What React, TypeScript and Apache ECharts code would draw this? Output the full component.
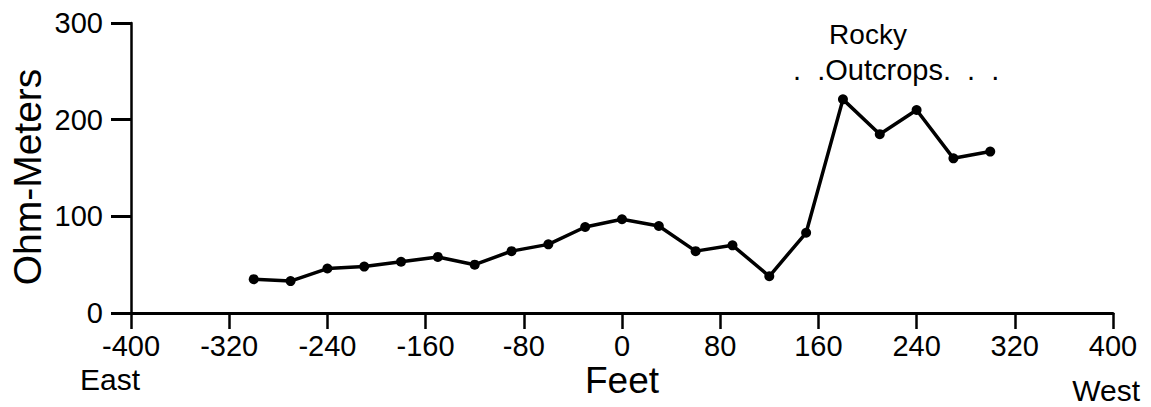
import React, { useEffect, useRef } from "react";
import * as echarts from "echarts";

// Distance along the line (feet), East (-) to West (+)
const feet = [-300, -270, -240, -210, -180, -150, -120, -90, -60, -30, 0, 30, 60, 90, 120, 150, 180, 210, 240, 270, 300];
// Apparent resistivity (Ohm-Meters)
const ohmMeters = [35, 33, 46, 48, 53, 58, 50, 64, 71, 89, 97, 90, 64, 70, 38, 83, 221, 185, 210, 160, 167];

const xMin = -400;
const xMax = 400;
const xInterval = 80;
const yMin = 0;
const yMax = 300;
const yInterval = 100;

const xAxisTitle = "Feet";
const yAxisTitle = "Ohm-Meters";
const leftEndLabel = "East";
const rightEndLabel = "West";
const noteLine1 = "Rocky";
const noteLine2 = ".  .Outcrops.  .  .";

const FONT = '"Liberation Sans", Arial, Helvetica, sans-serif';

export default function App() {
  const ref = useRef<HTMLDivElement>(null);

  useEffect(() => {
    if (!ref.current) return;
    const chart = echarts.init(ref.current, undefined, { renderer: "svg" });
    const data = feet.map((f, i) => [f, ohmMeters[i]]);
    chart.setOption({
      animation: false,
      backgroundColor: "#ffffff",
      textStyle: { fontFamily: FONT, color: "#000" },
      grid: { left: 131, right: 38, top: 23, bottom: 94, containLabel: false },
      xAxis: {
        type: "value",
        min: xMin,
        max: xMax,
        interval: xInterval,
        splitLine: { show: false },
        axisLine: { show: true, onZero: false, lineStyle: { color: "#000", width: 3 } },
        axisTick: { show: true, length: 16, lineStyle: { color: "#000", width: 2.5 } },
        axisLabel: { color: "#000", fontSize: 29, fontFamily: FONT, margin: 18 },
      },
      yAxis: {
        type: "value",
        min: yMin,
        max: yMax,
        interval: yInterval,
        splitLine: { show: false },
        axisLine: { show: true, onZero: false, lineStyle: { color: "#000", width: 2.5 } },
        axisTick: { show: true, length: 20, lineStyle: { color: "#000", width: 3 } },
        axisLabel: { color: "#000", fontSize: 29, fontFamily: FONT, margin: 28 },
      },
      series: [
        {
          type: "line",
          data,
          symbol: "circle",
          symbolSize: 10,
          showSymbol: true,
          lineStyle: { color: "#000", width: 3.5 },
          itemStyle: { color: "#000" },
          z: 3,
        },
      ],
      graphic: [
        {
          type: "text",
          x: 27,
          y: 177,
          rotation: Math.PI / 2,
          style: { text: yAxisTitle, fontSize: 39, fontFamily: FONT, fill: "#000", align: "center", verticalAlign: "middle" },
        },
        {
          type: "text",
          x: 622,
          y: 380,
          style: { text: xAxisTitle, fontSize: 37, fontFamily: FONT, fill: "#000", align: "center", verticalAlign: "middle" },
        },
        {
          type: "text",
          x: 80,
          y: 379,
          style: { text: leftEndLabel, fontSize: 30, fontFamily: FONT, fill: "#000", align: "left", verticalAlign: "middle" },
        },
        {
          type: "text",
          x: 1140,
          y: 390,
          style: { text: rightEndLabel, fontSize: 30, fontFamily: FONT, fill: "#000", align: "right", verticalAlign: "middle" },
        },
        {
          type: "text",
          x: 868,
          y: 34,
          style: { text: noteLine1, fontSize: 28, fontFamily: FONT, fill: "#000", align: "center", verticalAlign: "middle" },
        },
        {
          type: "text",
          x: 793,
          y: 70,
          style: { text: noteLine2, fontSize: 29, fontFamily: FONT, fill: "#000", align: "left", verticalAlign: "middle" },
        },
      ],
    });
    return () => chart.dispose();
  }, []);

  return (
    <div
      ref={ref}
      style={{ position: "absolute", left: 0, top: 0, width: 1151, height: 407, background: "#fff" }}
    />
  );
}
